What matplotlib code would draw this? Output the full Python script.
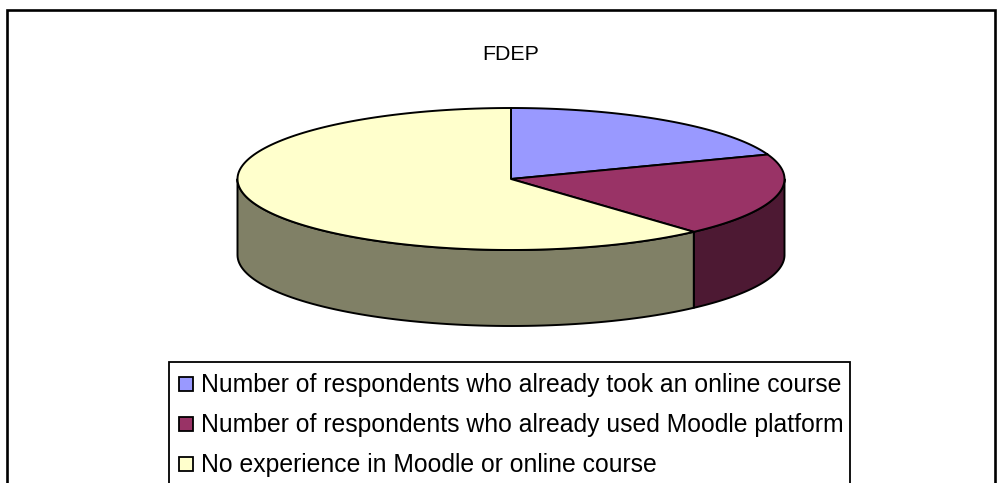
import numpy as np
import matplotlib
matplotlib.use("Agg")
import matplotlib.pyplot as plt
from matplotlib.patches import Polygon, Rectangle

plt.rcParams['font.family'] = ['Liberation Sans', 'DejaVu Sans']

# dados
titulo = "FDEP"
categorias = [
    "Number of respondents who already took an online course",
    "Number of respondents who already used Moodle platform",
    "No experience in Moodle or online course",
]
valores = [19.4, 18.95, 61.65]
cores_topo = ['#9999FF', '#993366', '#FFFFCC']
cores_lado = ['#4D4D80', '#4D1933', '#808066']

# geometria da pizza em pixels
cx, cy = 511, 179
rx, ry = 273.5, 71
altura = 76


def ponto(ang):
    a = np.radians(ang)
    return cx + rx * np.cos(a), cy - ry * np.sin(a)


fig = plt.figure(figsize=(10.03, 4.83), dpi=100)
ax = fig.add_axes([0, 0, 1, 1])
ax.set_xlim(0, 1003)
ax.set_ylim(483, 0)
ax.axis('off')

# moldura externa, cortada embaixo
ax.plot([7.5, 7.5, 995, 995], [490, 9.5, 9.5, 490], color='black', lw=1.9,
        solid_joinstyle='miter')

ax.text(511, 54, titulo, ha='center', va='center', fontsize=15.4, color='black')

# limites das fatias, sentido horário a partir do topo
total = sum(valores)
limites = [90 - 360 * s / total for s in np.cumsum([0] + valores)]

# lateral: só a parte da frente (metade de baixo da elipse)
for i in range(len(valores)):
    ini = min(limites[i], 0)
    fim = max(limites[i + 1], -180)
    if ini <= fim:
        continue
    angs = np.linspace(ini, fim, 80)
    xs, ys = ponto(angs)
    pts = list(zip(xs, ys)) + list(zip(xs[::-1], ys[::-1] + altura))
    ax.add_patch(Polygon(pts, closed=True, facecolor=cores_lado[i],
                         edgecolor='black', lw=1.4, joinstyle='round'))

# topo
for i in range(len(valores)):
    angs = np.linspace(limites[i], limites[i + 1], 150)
    xs, ys = ponto(angs)
    pts = [(cx, cy)] + list(zip(xs, ys))
    ax.add_patch(Polygon(pts, closed=True, facecolor=cores_topo[i],
                         edgecolor='black', lw=1.4, joinstyle='round'))

# legenda, cortada embaixo como no original
ax.plot([169.5, 169.5, 850, 850], [490, 362, 362, 490], color='black', lw=1.3,
        solid_joinstyle='miter')
for i, nome in enumerate(categorias):
    y = 384 + 40 * i
    ax.add_patch(Rectangle((179, y - 7), 14, 14, facecolor=cores_topo[i],
                           edgecolor='black', lw=1.3))
    ax.text(201, y + 1, nome, ha='left', va='center', fontsize=17.85, color='black')

fig.savefig('out.png', dpi=100)
plt.close(fig)
